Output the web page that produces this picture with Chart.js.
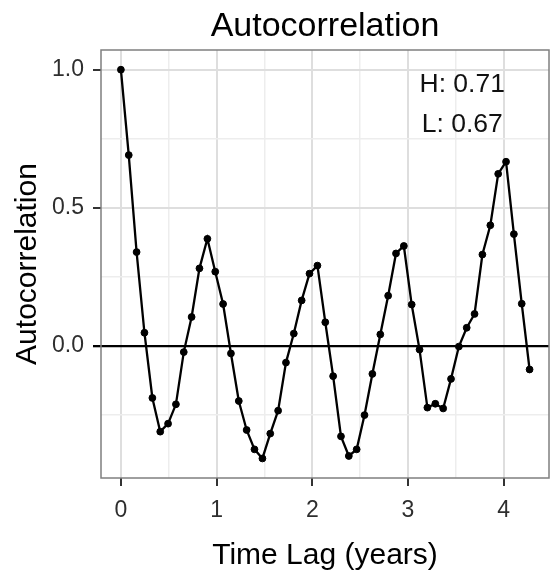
<!DOCTYPE html>
<html>
<head>
<meta charset="utf-8">
<script src="https://cdn.jsdelivr.net/npm/chart.js@4/dist/chart.umd.min.js"></script>
<style>
  html, body { margin: 0; padding: 0; background: #ffffff; }
  #wrap { width: 554px; height: 578px; }
</style>
</head>
<body>
<div id="wrap"><canvas id="c" width="554" height="578"></canvas></div>
<script>
// ---- data ----
const lagYears = [0, 0.082, 0.164, 0.246, 0.329, 0.411, 0.493, 0.575, 0.657, 0.739,
  0.821, 0.904, 0.986, 1.068, 1.150, 1.232, 1.314, 1.396, 1.479, 1.561,
  1.643, 1.725, 1.807, 1.889, 1.971, 2.054, 2.136, 2.218, 2.300, 2.382,
  2.464, 2.546, 2.628, 2.711, 2.793, 2.875, 2.957, 3.039, 3.121, 3.203,
  3.286, 3.368, 3.450, 3.532, 3.614, 3.696, 3.778, 3.861, 3.943, 4.025,
  4.107, 4.189, 4.271];
const acfValues = [1.000, 0.691, 0.340, 0.048, -0.188, -0.310, -0.281, -0.211, -0.022, 0.105,
  0.281, 0.388, 0.269, 0.152, -0.027, -0.199, -0.304, -0.374, -0.407, -0.317,
  -0.234, -0.060, 0.045, 0.165, 0.262, 0.291, 0.086, -0.109, -0.327, -0.398,
  -0.374, -0.250, -0.101, 0.042, 0.182, 0.335, 0.362, 0.150, -0.013, -0.223,
  -0.209, -0.226, -0.119, -0.002, 0.066, 0.116, 0.331, 0.437, 0.623, 0.667,
  0.405, 0.153, -0.085];
const xMajorTicks = [0, 1, 2, 3, 4];
const xMinorTicks = [0.5, 1.5, 2.5, 3.5];
const yMajorTicks = [0.0, 0.5, 1.0];
const yMinorTicks = [-0.25, 0.25, 0.75];
const annotations = ['H: 0.71', 'L: 0.67'];
const chartTitle = 'Autocorrelation';
const xTitle = 'Time Lag (years)';
const yTitle = 'Autocorrelation';

const FONT = "'Liberation Sans', Arial, Helvetica, sans-serif";
const isMajor = (v, list) => list.some(t => Math.abs(t - v) < 1e-9);

const panelPlugin = {
  id: 'panel',
  afterDatasetsDraw(chart) {
    const {ctx, chartArea: a, scales} = chart;
    ctx.save();
    ctx.strokeStyle = '#7f7f7f';
    ctx.lineWidth = 1.5;
    ctx.strokeRect(a.left, a.top, a.right - a.left, a.bottom - a.top);
    ctx.fillStyle = '#111111';
    ctx.font = '26.5px ' + FONT;
    ctx.textAlign = 'center';
    ctx.textBaseline = 'middle';
    const ax = scales.x.getPixelForValue(3.567);
    ctx.fillText(annotations[0], ax, scales.y.getPixelForValue(0.946));
    ctx.fillText(annotations[1], ax, scales.y.getPixelForValue(0.802));
    ctx.restore();
  }
};

new Chart(document.getElementById('c'), {
  type: 'line',
  data: {
    datasets: [{
      data: lagYears.map((x, i) => ({x: x, y: acfValues[i]})),
      borderColor: '#000000',
      borderWidth: 2.3,
      backgroundColor: '#000000',
      pointBackgroundColor: '#000000',
      pointBorderColor: '#000000',
      pointBorderWidth: 1,
      pointRadius: 3.4,
      tension: 0,
      fill: false
    }]
  },
  options: {
    responsive: false,
    animation: false,
    devicePixelRatio: 1,
    layout: { padding: { left: 0, right: 3, top: 0, bottom: 0 } },
    plugins: {
      legend: { display: false },
      tooltip: { enabled: false },
      title: {
        display: true,
        text: chartTitle,
        fullSize: false,
        color: '#000000',
        font: { family: FONT, size: 34, weight: 'normal' },
        padding: { top: 6, bottom: 3.2 }
      }
    },
    scales: {
      x: {
        type: 'linear',
        min: -0.208,
        max: 4.474,
        afterBuildTicks(scale) {
          scale.ticks = [...xMajorTicks, ...xMinorTicks].sort((a, b) => a - b).map(v => ({value: v}));
        },
        afterFit(scale) { scale.height = 100; },
        border: { display: false },
        grid: {
          drawTicks: true,
          tickLength: 8,
          color: ctx => isMajor(ctx.tick.value, xMajorTicks) ? '#dedede' : '#ededed',
          lineWidth: ctx => isMajor(ctx.tick.value, xMajorTicks) ? 2 : 1.5,
          tickColor: ctx => isMajor(ctx.tick.value, xMajorTicks) ? '#333333' : 'rgba(0,0,0,0)',
          tickWidth: 2
        },
        ticks: {
          autoSkip: false,
          maxRotation: 0,
          padding: 11,
          color: '#2e2e2e',
          font: { family: FONT, size: 23 },
          callback: v => isMajor(v, xMajorTicks) ? String(v) : ''
        },
        title: {
          display: true,
          text: xTitle,
          color: '#000000',
          font: { family: FONT, size: 30 },
          padding: { top: 0, bottom: 4 }
        }
      },
      y: {
        type: 'linear',
        min: -0.4777,
        max: 1.0713,
        afterBuildTicks(scale) {
          scale.ticks = [...yMajorTicks, ...yMinorTicks].sort((a, b) => a - b).map(v => ({value: v}));
        },
        afterFit(scale) { scale.width = 101; },
        border: { display: false },
        grid: {
          drawTicks: true,
          tickLength: 8,
          color: ctx => ctx.tick.value === 0 ? '#000000' : (isMajor(ctx.tick.value, yMajorTicks) ? '#dedede' : '#ededed'),
          lineWidth: ctx => ctx.tick.value === 0 ? 2.3 : (isMajor(ctx.tick.value, yMajorTicks) ? 2 : 1.5),
          tickColor: ctx => ctx.tick.value === 0 ? '#000000' : (isMajor(ctx.tick.value, yMajorTicks) ? '#333333' : 'rgba(0,0,0,0)'),
          tickWidth: ctx => ctx.tick.value === 0 ? 2.3 : 2
        },
        ticks: {
          autoSkip: false,
          padding: 9,
          color: '#2e2e2e',
          font: { family: FONT, size: 23 },
          callback: v => isMajor(v, yMajorTicks) ? Number(v).toFixed(1) : ''
        },
        title: {
          display: true,
          text: yTitle,
          color: '#000000',
          font: { family: FONT, size: 30 },
          padding: { top: 10, bottom: 0 }
        }
      }
    }
  },
  plugins: [panelPlugin]
});
</script>
</body>
</html>
